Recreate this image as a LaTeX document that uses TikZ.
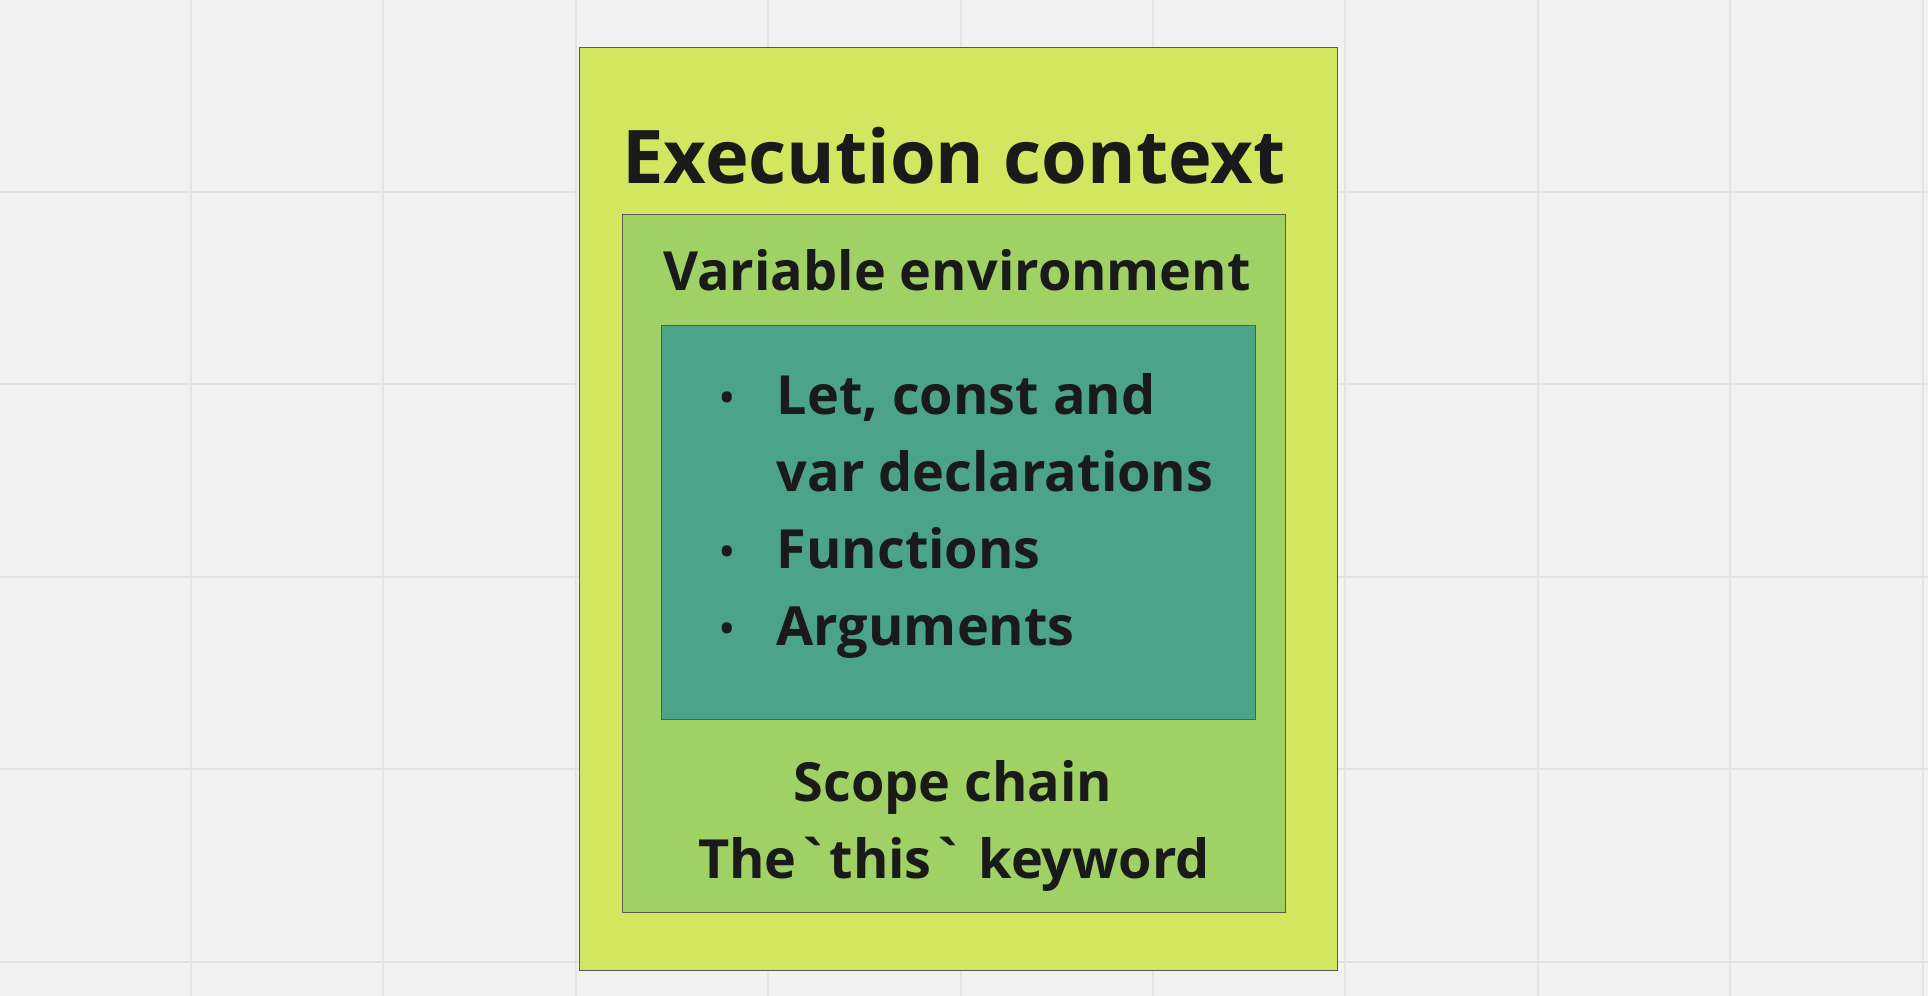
\documentclass[tikz,border=0pt]{standalone}
\usepackage{fontspec}
\setmainfont{Open Sans}[Ligatures=TeXOff]
\usetikzlibrary{positioning}
\definecolor{ctxyellow}{HTML}{D3E660}
\definecolor{envgreen}{HTML}{A0D164}
\definecolor{declteal}{HTML}{4BA48A}
\definecolor{gridgray}{HTML}{E4E4E4}
\definecolor{canvas}{HTML}{F2F2F2}
\definecolor{ink}{HTML}{1A1A1A}

\begin{document}
\begin{tikzpicture}[
  x=1pt,y=-1pt,
  panel/.style={draw=black!65,line width=1.2pt,inner sep=0pt,anchor=north west},
  txt/.style={inner sep=0pt,text=ink,anchor=base,font=\bfseries\fontsize{54}{60}\selectfont},
  dot/.style={inner sep=0pt,text=ink,anchor=base,font=\bfseries\fontsize{36}{40}\selectfont}
]
\useasboundingbox[fill=canvas] (0,0) rectangle (1928,996);
% canvas grid
\foreach \k in {0,...,9}
  \draw[gridgray,line width=2pt] (191+192.4*\k,0) -- (191+192.4*\k,996);
\foreach \k in {0,...,4}
  \draw[gridgray,line width=2pt] (0,192+192.4*\k) -- (1928,192+192.4*\k);
% nested panels
\node[panel,fill=ctxyellow,minimum width=758pt,minimum height=923pt] (ctx) at (579,47) {};
\node[panel,fill=envgreen,minimum width=663pt,minimum height=698pt] (env) at (622,214) {};
\node[panel,fill=declteal,minimum width=594pt,minimum height=394pt] (decl) at (661,325) {};
% labels
\node[txt,font=\bfseries\fontsize{74}{80}\selectfont] (title) at (954,183) {Execution context};
\node[txt] (envtitle) at (957,290) {Variable environment};
\node[txt,anchor=base west] (let) at (776.5,414) {Let, const and};
\node[txt,anchor=base west] (var) at (776.5,491) {var declarations};
\node[txt,anchor=base west] (fn) at (776.5,568) {Functions};
\node[txt,anchor=base west] (args) at (776.5,645) {Arguments};
\node[dot] (dlet) at (727,410) {•};
\node[dot] (dfn) at (727,564) {•};
\node[dot] (dargs) at (727,641) {•};
\node[txt] (scope) at (953,801) {Scope chain};
\node[txt] (this) at (954,878) {The`this` keyword};
\end{tikzpicture}
\end{document}
